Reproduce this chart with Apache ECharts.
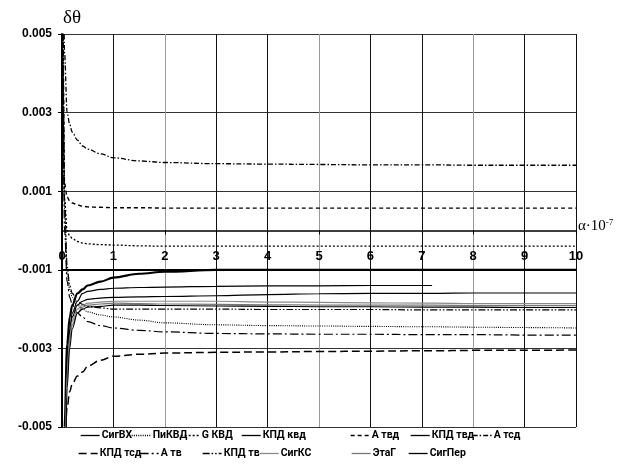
<!DOCTYPE html>
<html><head><meta charset="utf-8">
<script src="https://cdn.jsdelivr.net/npm/echarts@6/dist/echarts.min.js"></script>
<style>html,body{margin:0;padding:0;background:#fff}#c{width:617px;height:472px}</style>
</head><body><div id="c"></div><script>
// x values (alpha * 10^-7)
const xs = [0.02,0.05,0.1,0.15,0.2,0.3,0.4,0.5,0.75,1,1.5,2,3,4,5,6,7,7.2,8,9,10];
const xTicks = [0,1,2,3,4,5,6,7,8,9,10];
const yTicks = [-0.005,-0.003,-0.001,0.001,0.003,0.005];

const sigVX  = [-0.012,-0.005,-0.0029,-0.0022,-0.0019,-0.0016,-0.0015,-0.0014,-0.0013,-0.0012,-0.0011,-0.00105,-0.001,-0.001,-0.001,-0.001,-0.001,-0.001,-0.001,-0.001,-0.001];
const piKVD  = [0.005,0.0005,-0.0011,-0.0015,-0.0017,-0.0019,-0.002,-0.00207,-0.00215,-0.0022,-0.00228,-0.00235,-0.0024,-0.00242,-0.00243,-0.00244,-0.00245,-0.00245,-0.00246,-0.00247,-0.00248];
const gKVD   = [0.005,0.0008,0.0,-0.00014,-0.0002,-0.00028,-0.00032,-0.00034,-0.00036,-0.00037,-0.00039,-0.0004,-0.0004,-0.0004,-0.0004,-0.0004,-0.0004,-0.0004,-0.0004,-0.0004,-0.0004];
const kpdKVD = [-0.012,-0.0055,-0.0032,-0.0025,-0.0021,-0.0018,-0.0016,-0.00155,-0.0015,-0.00147,-0.00145,-0.00144,-0.00142,-0.00141,-0.00141,-0.0014,-0.0014,-0.0014,null,null,null];
const aTVD   = [0.006,0.0012,0.00085,0.00075,0.0007,0.00065,0.00062,0.0006,0.00059,0.00058,0.00058,0.00057,0.00057,0.00057,0.00057,0.00057,0.00057,0.00057,0.00057,0.00057,0.00057];
const kpdTVD = [-0.012,-0.006,-0.0034,-0.0026,-0.0022,-0.0019,-0.0018,-0.00175,-0.00172,-0.0017,-0.00169,-0.00168,-0.00166,-0.00163,-0.00161,-0.0016,-0.0016,-0.0016,-0.00159,-0.00159,-0.00159];
const aTSD   = [0.009,0.0045,0.003,0.0027,0.0025,0.0023,0.00215,0.00207,0.00195,0.00185,0.00177,0.00173,0.0017,0.00169,0.00168,0.00167,0.00167,0.00167,0.00166,0.00166,0.00166];
const kpdTSD = [-0.009,-0.0055,-0.0045,-0.0041,-0.0039,-0.0037,-0.0036,-0.00345,-0.0033,-0.0032,-0.00315,-0.00312,-0.0031,-0.00309,-0.00308,-0.00307,-0.00306,-0.00306,-0.00305,-0.00305,-0.00304];
const aTV    = [0.004,0.0,-0.0013,-0.0017,-0.0019,-0.0021,-0.0022,-0.00232,-0.00242,-0.00248,-0.00254,-0.00258,-0.00262,-0.00263,-0.00264,-0.00264,-0.00265,-0.00265,-0.00265,-0.00266,-0.00266];
const kpdTV  = [0.005,0.0008,-0.0009,-0.0014,-0.0016,-0.0018,-0.00188,-0.00193,-0.00197,-0.002,-0.002,-0.002,-0.002,-0.00201,-0.00201,-0.00201,-0.00202,-0.00202,-0.00202,-0.00202,-0.00202];
const sigKS  = [-0.012,-0.0065,-0.0036,-0.0027,-0.0023,-0.002,-0.0019,-0.00185,-0.00182,-0.0018,-0.0018,-0.0018,-0.0018,-0.00182,-0.00183,-0.00184,-0.00185,-0.00185,-0.00186,-0.00186,-0.00186];
const etaG   = [-0.012,-0.007,-0.0038,-0.0028,-0.0024,-0.0021,-0.00195,-0.0019,-0.00187,-0.00185,-0.00186,-0.00187,-0.00188,-0.00189,-0.0019,-0.0019,-0.0019,-0.0019,-0.00191,-0.00191,-0.00191];
const sigPer = [-0.012,-0.0075,-0.004,-0.003,-0.0025,-0.0021,-0.002,-0.00195,-0.00193,-0.0019,-0.0019,-0.00191,-0.00192,-0.00193,-0.00194,-0.00194,-0.00195,-0.00195,-0.00195,-0.00196,-0.00196];

const seriesDefs = [
  {name:'СигВХ',   vals:sigVX,  type:'solid', color:'#000', width:2.2, lx:80,  ly:430},
  {name:'ПиКВД',   vals:piKVD,  type:[1,1.2], color:'#000', width:1.1, lx:131, ly:430},
  {name:'G КВД',   vals:gKVD,   type:[2,2], color:'#000', width:1.3, lx:180, ly:430},
  {name:'КПД квд', vals:kpdKVD, type:'solid', color:'#000', width:1.2, lx:241, ly:430},
  {name:'А твд',   vals:aTVD,   type:[4,3], color:'#000', width:1.4, lx:350, ly:430},
  {name:'КПД твд', vals:kpdTVD, type:'solid', color:'#000', width:1.2, lx:410, ly:430},
  {name:'А тсд',   vals:aTSD,   type:[5,2,1.5,2], color:'#000', width:1.3, lx:472, ly:430},
  {name:'КПД тсд', vals:kpdTSD, type:[8,4], color:'#000', width:1.5, lx:78,  ly:448},
  {name:'А тв',    vals:aTV,    type:[9,3,2,3], color:'#000', width:1.2, lx:139, ly:448},
  {name:'КПД тв',  vals:kpdTV,  type:[7,2,1.5,2,1.5,2], color:'#000', width:1.2, lx:202, ly:448},
  {name:'СигКС',   vals:sigKS,  type:'solid', color:'#8a8a8a', width:1.2, lx:259, ly:448},
  {name:'ЭтаГ',    vals:etaG,   type:'solid', color:'#777', width:1.2, lx:351, ly:448},
  {name:'СигПер',  vals:sigPer, type:'solid', color:'#000', width:1.1, lx:408, ly:448}
];

const fontNarrow = 'Roboto,"Liberation Sans Narrow","DejaVu Sans Condensed",sans-serif';

const chart = echarts.init(document.getElementById('c'), null, {renderer:'canvas'});
const legends = seriesDefs.map(d => ({
  data:[d.name], left:d.lx, top:d.ly, itemWidth:19, itemHeight:10, itemGap:0,
  padding:0, selectedMode:false,
  itemStyle:{opacity:0, borderWidth:0},
  lineStyle:{width:1.3},
  textStyle:{fontFamily:fontNarrow, fontWeight:'bold', fontSize:10.5, color:'#000', padding:[0,0,0,-3]}
}));

const series = seriesDefs.map((d, idx) => {
  const s = {
    name:d.name, type:'line', showSymbol:false, symbol:'none',
    smooth:0.35, smoothMonotone:'x', clip:true,
    lineStyle:{color:d.color, width:d.width, type:d.type},
    itemStyle:{color:d.color},
    data: xs.map((x,i)=>[x, d.vals[i]]).filter(p => p[1] !== null),
    z: 3
  };
  if (idx === 0) {
    // the heavier -0.001 gridline of the original
    s.markLine = {silent:true, symbol:['none','none'], label:{show:false}, animation:false,
      lineStyle:{color:'#000', width:2, type:'solid'},
      data:[[{coord:[xTicks[0], yTicks[2]]},{coord:[xTicks[10], yTicks[2]]}]]};
  }
  return s;
});

chart.setOption({
  backgroundColor:'#fff',
  animation:false,
  grid:{left:62, right:41, top:34, bottom:45, containLabel:false},
  legend: legends,
  xAxis:{
    type:'value', min:0, max:10, interval:1, position:'bottom', offset:-196.5,
    name:'α·10{s|-7}', nameLocation:'end', nameGap:2,
    nameTextStyle:{fontFamily:'"Liberation Serif",serif', fontSize:15, color:'#000', padding:[0,0,8,0],
      rich:{s:{fontFamily:'"Liberation Serif",serif', fontSize:9, verticalAlign:'top', padding:[0,0,8,0], color:'#000'}}},
    axisLine:{onZero:false, lineStyle:{color:'#000', width:1.5}},
    axisTick:{show:true, inside:false, length:4, lineStyle:{color:'#000'}},
    axisLabel:{margin:19, fontFamily:'"Liberation Sans",Arial,sans-serif', fontWeight:'bold', fontSize:13, color:'#000',
      formatter: v => (xTicks.indexOf(Math.round(v))>=0 ? String(Math.round(v)) : '')},
    splitLine:{show:true, lineStyle:{width:1, color:['#111','#111','#999','#111','#111','#999','#111','#111','#999','#111','#111']}}
  },
  yAxis:{
    type:'value', min:-0.005, max:0.005, interval:0.002,
    name:'δθ', nameLocation:'end', nameGap:6,
    nameTextStyle:{fontFamily:'"Liberation Serif",serif', fontSize:19, color:'#000', padding:[0,0,0,20]},
    axisLine:{show:true, lineStyle:{color:'#000', width:2}},
    axisTick:{show:true, inside:false, length:4, lineStyle:{color:'#000'}},
    axisLabel:{margin:10, fontFamily:'"Liberation Sans",Arial,sans-serif', fontWeight:'bold', fontSize:12, color:'#000',
      formatter: v => {
        const hit = yTicks.find(t => Math.abs(t - v) < 1e-9);
        return hit === undefined ? '' : hit.toFixed(3);
      }},
    splitLine:{show:true, lineStyle:{color:'#333', width:1}}
  },
  series: series
});
</script></body></html>
